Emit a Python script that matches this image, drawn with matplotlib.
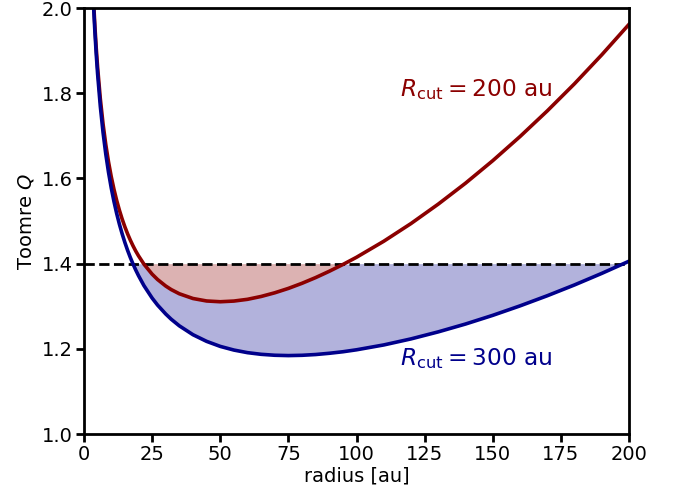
import numpy as np
import matplotlib
matplotlib.use("Agg")
import matplotlib.pyplot as plt

# radius [au] and Toomre Q for the two cut-off radii
radius = [3, 3.5, 4, 4.5, 5, 6, 7, 8, 9, 10, 11, 12, 13, 14, 15, 16, 17, 18,
          19, 20, 22, 25, 27, 30, 32, 35, 40, 45, 50, 55, 60, 65, 70, 75, 80,
          85, 90, 95, 100, 110, 120, 130, 140, 150, 160, 170, 180, 190, 200]
q_200 = [2.0934, 2.0193, 1.9579, 1.9058, 1.8610, 1.7869, 1.7279, 1.6796,
         1.6390, 1.6044, 1.5746, 1.5484, 1.5253, 1.5048, 1.4865, 1.4700,
         1.4552, 1.4417, 1.4294, 1.4184, 1.3988, 1.3753, 1.3627, 1.3474,
         1.3391, 1.3292, 1.3181, 1.3123, 1.3105, 1.3121, 1.3162, 1.3229,
         1.3315, 1.3418, 1.3538, 1.3672, 1.3820, 1.3979, 1.4149, 1.4525,
         1.4941, 1.5397, 1.5888, 1.6417, 1.6983, 1.7585, 1.8223, 1.8902,
         1.9618]
q_300 = [2.0829, 2.0075, 1.9449, 1.8916, 1.8455, 1.7691, 1.7079, 1.6573,
         1.6146, 1.5779, 1.5460, 1.5177, 1.4926, 1.4701, 1.4498, 1.4313,
         1.4145, 1.3991, 1.3849, 1.3719, 1.3484, 1.3192, 1.3027, 1.2817,
         1.2695, 1.2539, 1.2331, 1.2175, 1.2057, 1.1971, 1.1910, 1.1871,
         1.1849, 1.1841, 1.1848, 1.1866, 1.1895, 1.1931, 1.1977, 1.2091,
         1.2233, 1.2398, 1.2582, 1.2786, 1.3008, 1.3246, 1.3500, 1.3771,
         1.4057]
q_crit = 1.4

r = np.array(radius)
qa = np.array(q_200)
qb = np.array(q_300)

fig = plt.figure(figsize=(6.75, 4.95), dpi=100)
ax = fig.add_axes([0.1244, 0.1232, 0.8075, 0.8606])

# shaded unstable regions
ax.fill_between(r, qb, np.minimum(qa, q_crit), where=qb < q_crit,
                interpolate=True, color="darkblue", alpha=0.3, lw=0)
ax.fill_between(r, qa, q_crit, where=qa < q_crit,
                interpolate=True, color="darkred", alpha=0.3, lw=0)

ax.axhline(q_crit, color="black", ls="--", lw=2)
ax.plot(r, qa, color="darkred", lw=2.6, solid_joinstyle="round")
ax.plot(r, qb, color="darkblue", lw=2.6, solid_joinstyle="round")

ax.text(116, 1.808, r"$R_\mathrm{cut} = 200$ au", color="darkred",
        fontsize=16.8, va="center", ha="left")
ax.text(116, 1.176, r"$R_\mathrm{cut} = 300$ au", color="darkblue",
        fontsize=16.8, va="center", ha="left")

ax.set_xlim(0, 200)
ax.set_ylim(1.0, 2.0)
ax.set_xticks(np.arange(0, 201, 25))
ax.set_yticks(np.arange(1.0, 2.01, 0.2))
ax.set_xlabel("radius [au]", fontsize=14, labelpad=2)
ax.set_ylabel("Toomre $Q$", fontsize=14)
ax.tick_params(labelsize=14, width=2, length=6, pad=2)
for s in ax.spines.values():
    s.set_linewidth(2)

plt.savefig("out.png", dpi=100)
